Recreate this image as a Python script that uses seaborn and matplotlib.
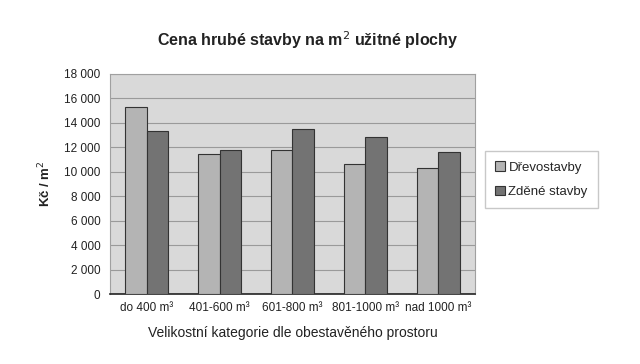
import matplotlib
matplotlib.use("Agg")
import matplotlib.pyplot as plt
import seaborn as sns
import pandas as pd
import numpy as np

categories = ["do 400 m³", "401-600 m³", "601-800 m³", "801-1000 m³", "nad 1000 m³"]
series_names = ["Dřevostavby", "Zděné stavby"]
drevo = [15300, 11450, 11750, 10600, 10300]
zdene = [13350, 11800, 13500, 12850, 11650]
yticks = [0, 2000, 4000, 6000, 8000, 10000, 12000, 14000, 16000, 18000]
ytick_labels = ["0", "2 000", "4 000", "6 000", "8 000", "10 000", "12 000", "14 000", "16 000", "18 000"]

df = pd.DataFrame({
    "kat": categories * 2,
    "typ": [series_names[0]] * 5 + [series_names[1]] * 5,
    "cena": drevo + zdene,
})

sns.set_theme(style="white")
plt.rcParams["font.family"] = ["Liberation Sans", "DejaVu Sans"]

fig = plt.figure(figsize=(6.4, 3.64), dpi=100)
ax = fig.add_axes([0.172, 0.192, 0.570, 0.605])
ax.set_facecolor("#d9d9d9")

sns.barplot(data=df, x="kat", y="cena", hue="typ", order=categories, hue_order=series_names,
            palette=["#b4b4b4", "#737373"], width=0.58, gap=0, edgecolor="#333333", linewidth=0.8,
            ax=ax, zorder=3, legend=True)

ax.set_ylim(0, 18000)
ax.set_xlim(-0.5, 4.5)
ax.set_yticks(yticks)
ax.set_yticklabels(ytick_labels, fontsize=8.5, color="#222222")
ax.yaxis.grid(True, color="#9a9a9a", linewidth=0.8, zorder=0)
ax.set_axisbelow(True)

ax.set_xticks(range(5))
ax.set_xticklabels(categories, fontsize=8.5, color="#222222")
ax.tick_params(axis="x", length=0, pad=6)
ax.set_xticks(np.arange(-0.5, 5.0, 1.0), minor=True)
ax.tick_params(axis="x", which="minor", length=4, width=1, color="#222222", direction="out")
ax.tick_params(axis="y", length=4, width=0.8, color="#222222", direction="out", pad=3)

for s in ["top", "right"]:
    ax.spines[s].set_color("#a0a0a0")
    ax.spines[s].set_linewidth(0.8)
ax.spines["left"].set_color("#a0a0a0")
ax.spines["left"].set_linewidth(0.8)
ax.spines["bottom"].set_color("#222222")
ax.spines["bottom"].set_linewidth(1.2)

ax.set_xlabel("Velikostní kategorie dle obestavěného prostoru", fontsize=10, color="#222222", labelpad=8)
ax.set_ylabel("Kč / m$^2$", fontsize=9.5, color="#222222", fontweight="bold", labelpad=8)

fig.text(0.48, 0.89, "Cena hrubé stavby na m$^2$ užitné plochy", ha="center", va="center",
         fontsize=11.5, fontweight="bold", color="#222222")

handles, labels = ax.get_legend_handles_labels()
ax.legend(handles, labels, loc="center left", bbox_to_anchor=(1.027, 0.52), frameon=True,
          fancybox=False, edgecolor="#bbbbbb", fontsize=9.5, handlelength=0.7, handleheight=0.7,
          handletextpad=0.3, labelspacing=0.9, borderpad=0.8, borderaxespad=0)
leg = ax.get_legend()
leg._legend_box.sep = 0

fig.savefig("out.png", dpi=100, facecolor="white")
